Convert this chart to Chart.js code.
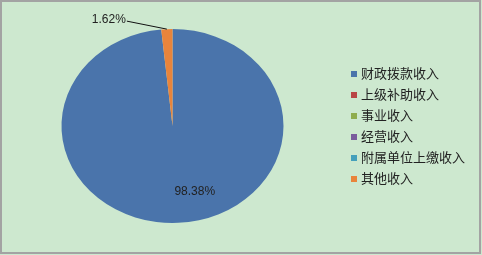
<!DOCTYPE html>
<html>
<head>
<meta charset="utf-8">
<script src="https://cdn.jsdelivr.net/npm/chart.js@4"></script>
<style>
  html, body { margin: 0; padding: 0; background: #fff; }
  #wrap { width: 482px; height: 255px; }
</style>
</head>
<body>
<div id="wrap"><canvas id="chart" width="482" height="255"></canvas></div>
<script>
const categories = ['财政拨款收入', '上级补助收入', '事业收入', '经营收入', '附属单位上缴收入', '其他收入'];
const shares = [98.38, 0, 0, 0, 0, 1.62];
const colors = ['#4a74ab', '#b94646', '#8fac4d', '#7a5c9c', '#44a0bb', '#e9843b'];

const ctx = document.getElementById('chart');
const squash = 97 / 111; // the pie in the picture is an ellipse

// background + frame
const frame = {
  id: 'frame',
  beforeDraw(chart) {
    const c = chart.ctx;
    c.save();
    c.fillStyle = '#cde8cf';
    c.fillRect(0, 0, chart.width, chart.height);
    c.strokeStyle = '#a3a3a3';
    c.lineWidth = 2;
    c.strokeRect(1, 1, chart.width - 3, chart.height - 3);
    c.restore();
  }
};

function centre(chart) {
  const a = chart.chartArea;
  return { x: (a.left + a.right) / 2, y: (a.top + a.bottom) / 2 };
}

// flatten the pie vertically
const flatten = {
  id: 'flatten',
  beforeDatasetsDraw(chart) {
    const c = chart.ctx, p = centre(chart);
    c.save();
    c.translate(p.x, p.y);
    c.scale(1, squash);
    c.translate(-p.x, -p.y);
  },
  afterDatasetsDraw(chart) {
    chart.ctx.restore();
  }
};

const labels = {
  id: 'labels',
  afterDraw(chart) {
    const c = chart.ctx, p = centre(chart);
    const arcs = chart.getDatasetMeta(0).data;
    c.save();
    c.fillStyle = '#222';
    c.font = '12px "Liberation Sans", Arial, sans-serif';
    c.textBaseline = 'middle';
    shares.forEach((v, i) => {
      if (!v) return;
      const a = arcs[i];
      const mid = (a.startAngle + a.endAngle) / 2;
      const R = a.outerRadius;
      const txt = v.toFixed(2) + '%';
      if (v > 50) {
        // inside label
        const ang = mid - 0.24;
        c.textAlign = 'center';
        c.fillText(txt, p.x + Math.cos(ang) * R * 0.7, p.y + 1 + Math.sin(ang) * R * 0.7 * squash);
      } else {
        // outside label with leader line
        const ex = p.x + Math.cos(mid) * R;
        const ey = p.y + Math.sin(mid) * R * squash;
        const lx = ex - 40, ly = ey - 8;
        c.strokeStyle = '#111';
        c.lineWidth = 1;
        c.beginPath();
        c.moveTo(ex, ey);
        c.lineTo(lx, ly);
        c.stroke();
        c.textAlign = 'right';
        c.fillText(txt, lx - 1, ly - 1);
      }
    });
    // legend
    c.textAlign = 'left';
    c.font = '13px "Noto Sans CJK SC", sans-serif';
    categories.forEach((name, i) => {
      const y = 73 + i * 21;
      c.fillStyle = colors[i];
      c.fillRect(351, y - 2, 6, 6);
      c.fillStyle = '#222';
      c.fillText(name, 361, y);
    });
    c.restore();
  }
};

new Chart(ctx, {
  type: 'pie',
  data: {
    labels: categories,
    datasets: [{
      data: shares,
      backgroundColor: colors,
      borderWidth: 0
    }]
  },
  options: {
    responsive: false,
    animation: false,
    layout: {
      padding: { left: 61.5, right: 198.5, top: 15, bottom: 18 }
    },
    plugins: {
      legend: { display: false },
      tooltip: { enabled: false }
    }
  },
  plugins: [frame, flatten, labels]
});
</script>
</body>
</html>
